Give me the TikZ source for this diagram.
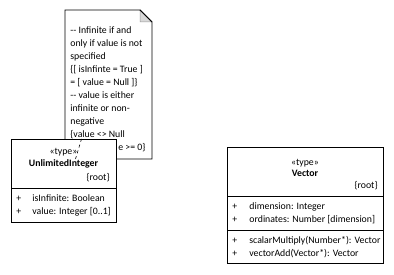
\documentclass[tikz,border=0pt]{standalone}
\usepackage{fontspec}
\setmainfont{Carlito}
\usetikzlibrary{calc}

\begin{document}
\begin{tikzpicture}[x=1pt, y=-1pt, line width=0.8pt,
    umltxt/.style={inner sep=0pt, font=\fontsize{9.8}{13}\selectfont},
    umlbox/.style={draw, fill=white}]
    \useasboundingbox (0,0) rectangle (394,275);

    % constraint note with folded corner
    \coordinate (NA) at (65,10);
    \coordinate (NB) at (152,159);
    \draw[umlbox] (NA) -- (140,10) -- (152,22) -- (NB -| NB) -- (NA |- NB) -- cycle;
    \draw[fill=black!15, draw=black!40, line width=0.5pt] (140,10) -- (140,22) -- (152,22) -- cycle;
    \draw (140,10) -- (152,22);
    \foreach \ln [count=\i] in {{{-}{-} Infinite if and},{only if value is not},{specified},
        {\{[ isInfinte = True ]},{= [ value = Null ]\}},{{-}{-} value is either},
        {infinite or non-},{negative},{\{value <> Null}}
        \node[umltxt, anchor=base west] (note-\i) at (70,21+13*\i) {\ln};
    % last line, the rest of it lies under the class box
    \node[umltxt, anchor=base west] (note-10) at (118,151) {e >= 0\}};

    % class UnlimitedInteger
    \coordinate (UA) at (11,139);
    \coordinate (UB) at (116,222);
    \draw[umlbox] (UA) rectangle (UB);
    \draw (11,188) -- (116,188);
    \node[umltxt, anchor=base] (u-stereo) at (63.5,155) {«type»};
    \node[umltxt, anchor=base, font=\fontsize{9.8}{13}\selectfont\bfseries] (u-name) at (63.5,167) {UnlimitedInteger};
    \node[umltxt, anchor=base east] (u-root) at (110,181) {\{root\}};
    \node[umltxt, anchor=base west] (u-p1) at (16,202) {+};
    \node[umltxt, anchor=base west] (u-a1) at (32,202) {isInfinite: Boolean};
    \node[umltxt, anchor=base west] (u-p2) at (16,215) {+};
    \node[umltxt, anchor=base west] (u-a2) at (32,215) {value: Integer [0..1]};

    % link from note to class
    \coordinate (note-end) at (75.5,159);
    \coordinate (class-end) at (81.5,139);
    \draw[dash pattern=on 3pt off 3pt, line width=0.6pt] (note-end) -- (class-end);

    % class Vector
    \coordinate (VA) at (227,147);
    \coordinate (VB) at (383,263);
    \draw[umlbox] (VA) rectangle (VB);
    \draw (227,196) -- (383,196);
    \draw (227,230) -- (383,230);
    \node[umltxt, anchor=base] (v-stereo) at (305,166) {«type»};
    \node[umltxt, anchor=base, font=\fontsize{9.8}{13}\selectfont\bfseries] (v-name) at (305,177) {Vector};
    \node[umltxt, anchor=base east] (v-root) at (378,189) {\{root\}};
    \node[umltxt, anchor=base west] (v-p1) at (232,210) {+};
    \node[umltxt, anchor=base west] (v-a1) at (249,210) {dimension: Integer};
    \node[umltxt, anchor=base west] (v-p2) at (232,223) {+};
    \node[umltxt, anchor=base west] (v-a2) at (249,223) {ordinates: Number [dimension]};
    \node[umltxt, anchor=base west] (v-p3) at (232,244) {+};
    \node[umltxt, anchor=base west] (v-o1) at (249,244) {scalarMultiply(Number*): Vector};
    \node[umltxt, anchor=base west] (v-p4) at (232,257) {+};
    \node[umltxt, anchor=base west] (v-o2) at (249,257) {vectorAdd(Vector*): Vector};
\end{tikzpicture}
\end{document}
